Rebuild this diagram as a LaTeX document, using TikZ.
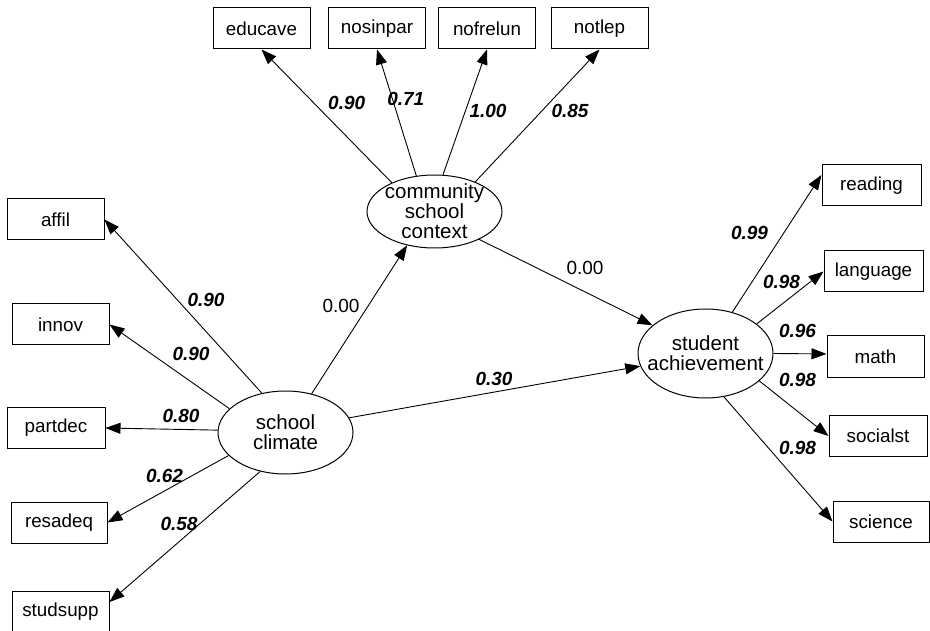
\documentclass[tikz,border=0pt]{standalone}
\usepackage{fontspec}
\setmainfont{Liberation Sans}
\usetikzlibrary{shapes.geometric,arrows.meta}
\begin{document}
\begin{tikzpicture}[x=1pt,y=-1pt,
  obs/.style={draw, rectangle, line width=1pt, minimum width=97pt, minimum height=41pt, inner sep=0pt, font=\fontsize{18.8}{20}\selectfont},
  lat/.style={draw, ellipse, line width=1pt, inner sep=0pt},
  lattext/.style={align=center, inner sep=0pt, font=\fontsize{20.5}{20}\selectfont},
  conn/.style={line width=0.9pt, -{Triangle[length=15pt,width=11pt]}},
  coef/.style={font=\fontsize{19}{20}\selectfont\bfseries\itshape, inner sep=0pt},
  coefp/.style={font=\fontsize{19}{20}\selectfont, inner sep=0pt}]
\clip (0,0) rectangle (930,631);
\fill[white] (0,0) rectangle (930,631);

% top indicators
\node[obs] (educave) at (261.5,28.5) {educave};
\node[obs] (nosinpar) at (377,28.5) {nosinpar};
\node[obs] (nofrelun) at (487,28.5) {nofrelun};
\node[obs] (notlep) at (599.5,28.5) {notlep};

% left indicators
\node[obs] (affil) at (55.5,219.5) {affil};
\node[obs] (innov) at (60.5,324.5) {innov};
\node[obs, minimum width=98pt] (partdec) at (56,428) {partdec};
\node[obs, minimum width=96pt] (resadeq) at (59,522.5) {resadeq};
\node[obs] (studsupp) at (60.5,611.5) {studsupp};

% right indicators
\node[obs, minimum width=99pt] (reading) at (871.5,185.5) {reading};
\node[obs, minimum width=99pt] (language) at (873.5,271.5) {language};
\node[obs] (math) at (875.5,356.5) {math};
\node[obs, minimum width=98pt] (socialst) at (878,436) {socialst};
\node[obs, minimum width=96pt] (science) at (881,521.5) {science};

% latent variables
\node[lat, minimum width=135pt, minimum height=73pt] (comm) at (434.5,211.5) {};
\node[lattext] (commtxt) at (comm) {community\\school\\context};
\node[lat, minimum width=135pt, minimum height=83pt] (school) at (285.5,432.5) {};
\node[lattext] (schooltxt) at (school) {school\\climate};
\node[lat, minimum width=135pt, minimum height=89pt] (student) at (705.5,353.5) {};
\node[lattext] (studenttxt) at (student) {student\\achievement};

% connectors
\draw[conn] (comm.146) -- (educave.south);
\draw[conn] (comm.117) -- (nosinpar.south);
\draw[conn] (comm.77) -- (nofrelun.south);
\draw[conn] (comm.36) -- (notlep.south);

\draw[conn] (school.121) -- (affil.east);
\draw[conn] (school.157) -- (innov.east);
\draw[conn] (school.178) -- (partdec.east);
\draw[conn] (school.202) -- (resadeq.east);
\draw[conn] (school.237) -- (studsupp.11);
\draw[conn] (school.56) -- (comm.231);
\draw[conn] (school.13) -- (student.191);
\draw[conn] (comm.328) -- (student.152);

\draw[conn] (student.57) -- (reading.168);
\draw[conn] (student.30) -- (language.west);
\draw[conn] (student.0) -- (math.177);
\draw[conn] (student.333) -- (socialst.west);
\draw[conn] (student.293) -- (science.west);

% coefficients
\node[coef] (c1) at (346.7,103) {0.90};
\node[coef] (c2) at (405.8,99) {0.71};
\node[coef] (c3) at (488,111) {1.00};
\node[coef] (c4) at (570,111) {0.85};

\node[coef] (c5) at (206,300) {0.90};
\node[coef] (c6) at (191,354) {0.90};
\node[coef] (c7) at (181,416) {0.80};
\node[coef] (c8) at (164.5,476) {0.62};
\node[coef] (c9) at (179,524) {0.58};

\node[coefp] (c10) at (341,306) {0.00};
\node[coefp] (c11) at (585,268) {0.00};
\node[coef] (c12) at (494,379) {0.30};

\node[coef] (c13) at (749.5,233) {0.99};
\node[coef] (c14) at (781.5,282) {0.98};
\node[coef] (c15) at (797.5,331) {0.96};
\node[coef] (c16) at (797.5,380) {0.98};
\node[coef] (c17) at (797.5,448) {0.98};
\end{tikzpicture}
\end{document}
